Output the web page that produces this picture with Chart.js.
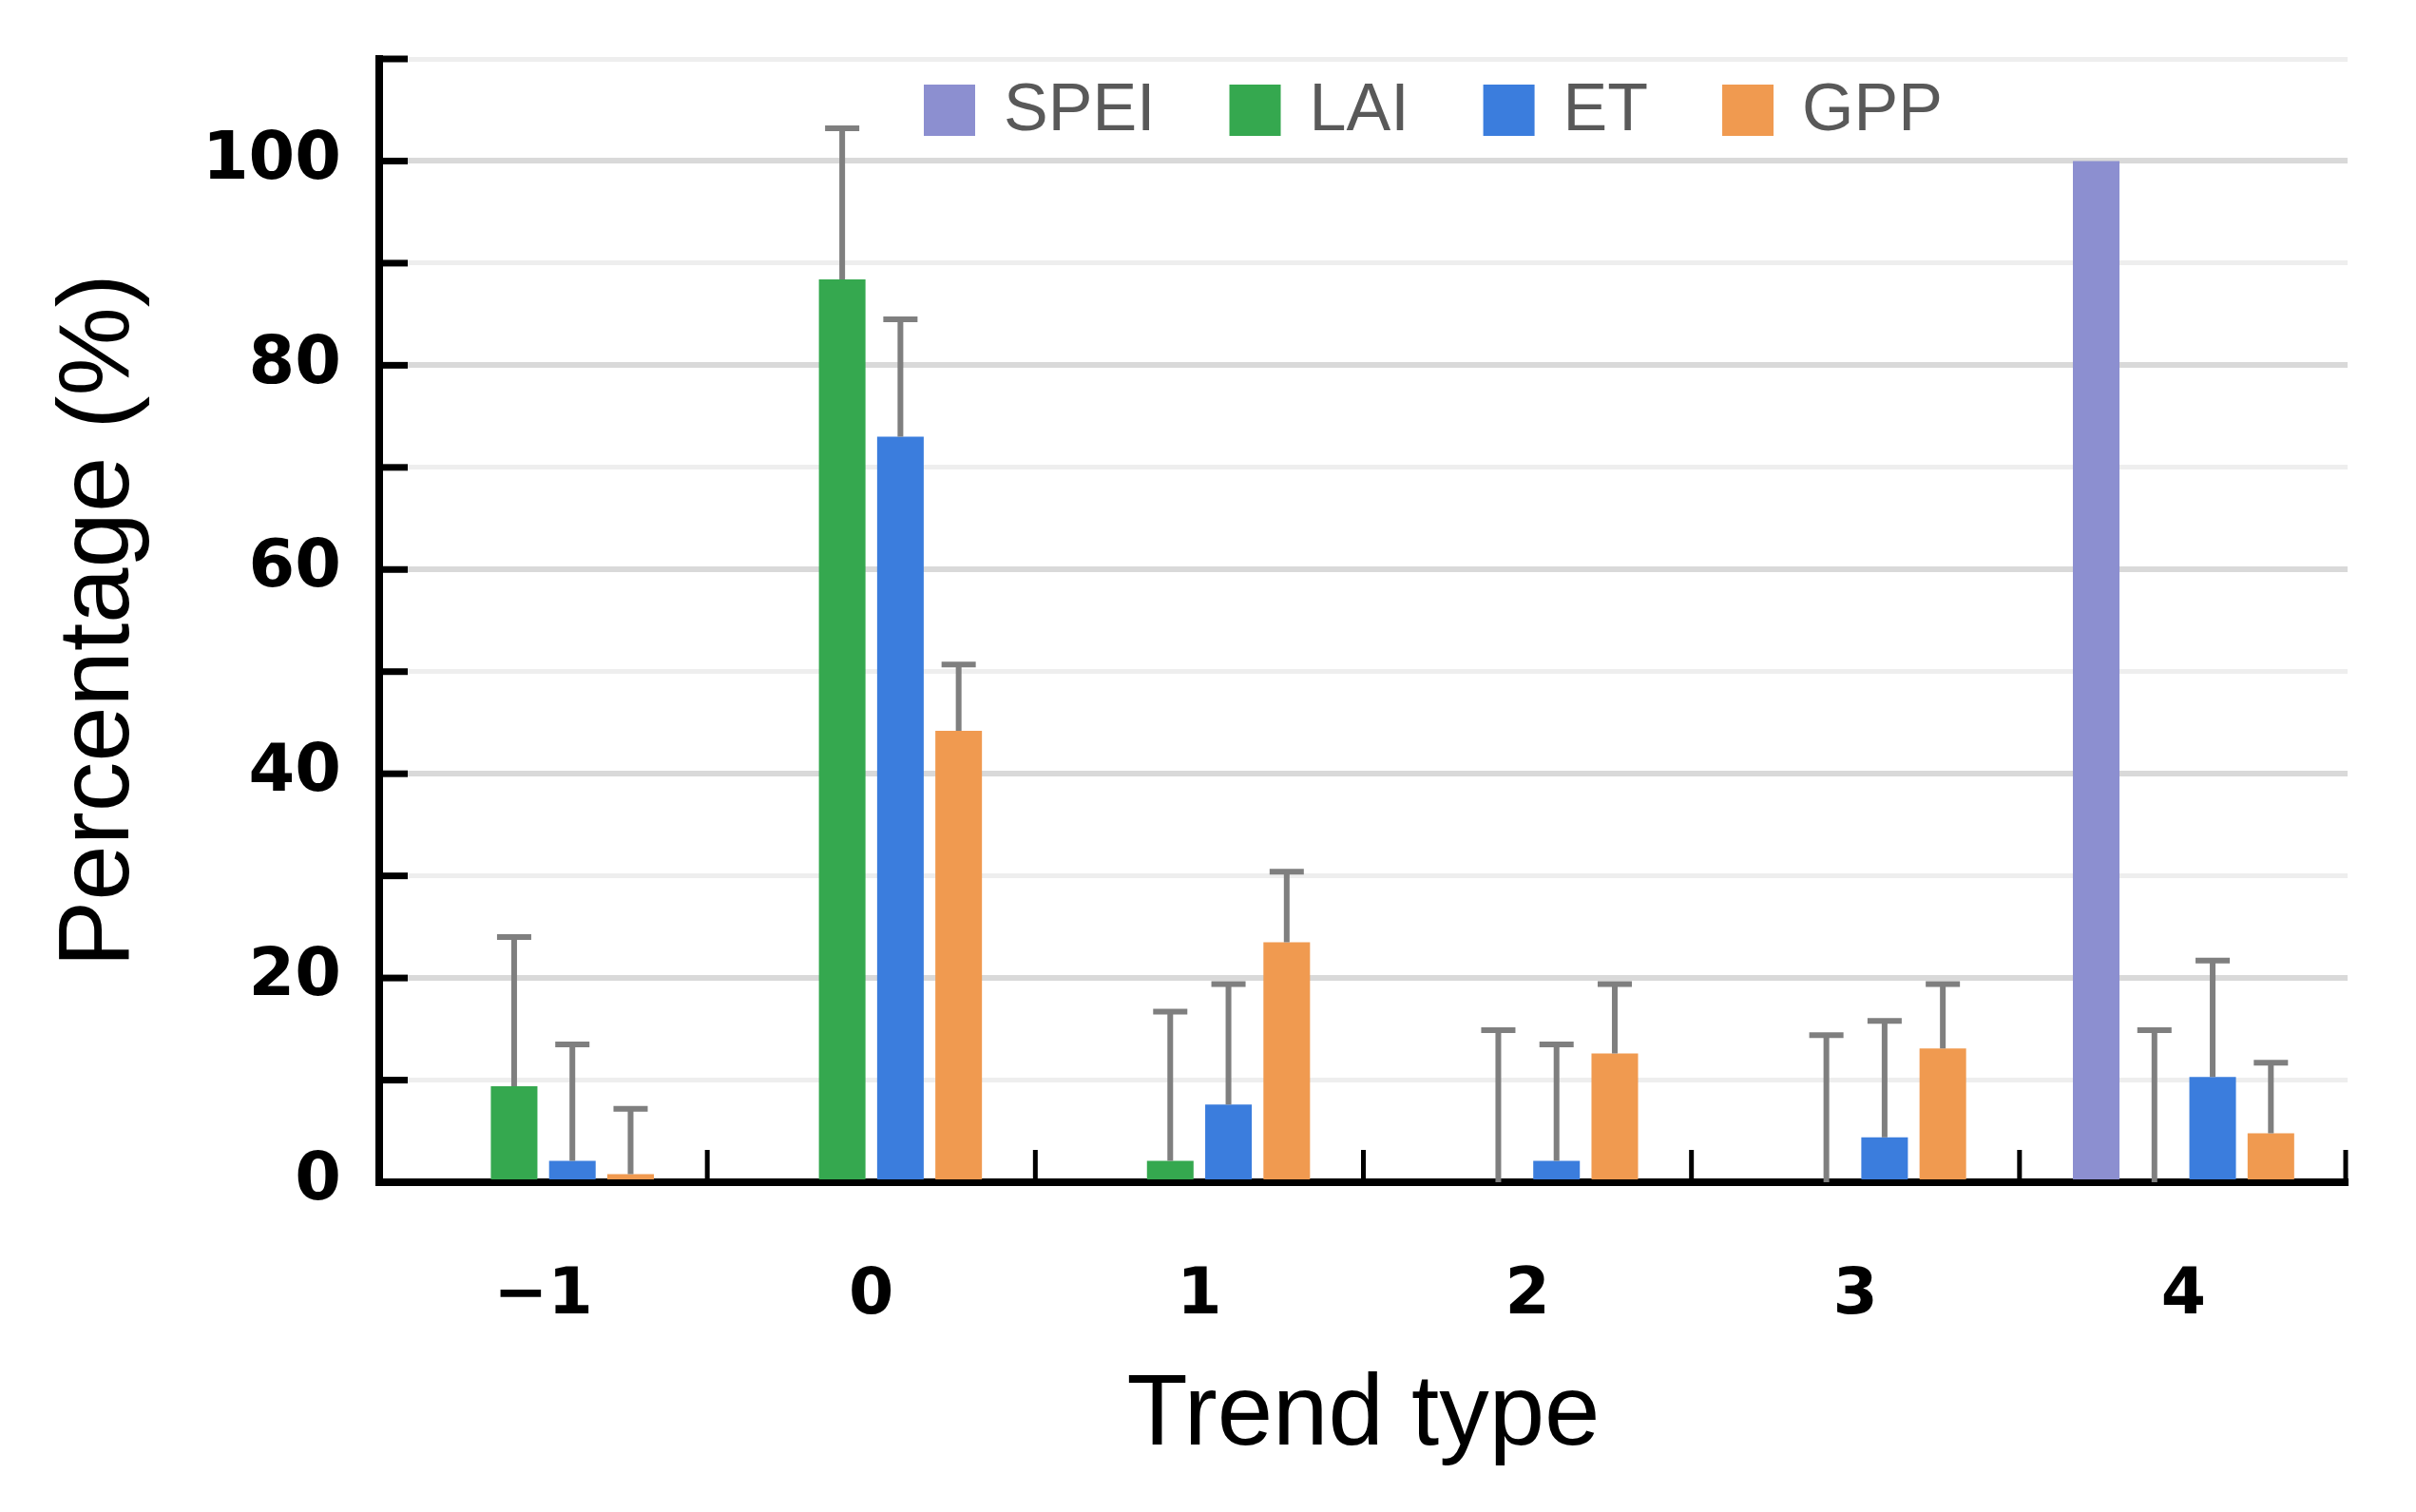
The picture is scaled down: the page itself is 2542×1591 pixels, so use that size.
<!DOCTYPE html>
<html>
<head>
<meta charset="utf-8">
<script src="https://cdn.jsdelivr.net/npm/chart.js@4.4.1/dist/chart.umd.min.js"></script>
<style>
html, body { margin: 0; padding: 0; background: #fff; }
#wrap { width: 2542px; height: 1591px; position: relative; }
</style>
</head>
<body>
<div id="wrap"><canvas id="chart"></canvas></div>
<script>
// datos
const trendTypes = ['\u22121', '0', '1', '2', '3', '4'];
const speiValues = [0, 0, 0, 0, 0, 100];
const laiValues = [9.4, 88.4, 2.1, 0, 0, 0];
const etValues = [2.1, 73.0, 7.6, 2.1, 4.4, 10.3];
const gppValues = [0.8, 44.2, 23.5, 12.6, 13.1, 4.8];
// barras de error (solo hacia arriba)
const laiErrors = [14.6, 14.8, 14.6, 14.9, 14.4, 14.9];
const etErrors = [11.4, 11.5, 11.8, 11.4, 11.4, 11.4];
const gppErrors = [6.4, 6.5, 6.9, 6.8, 6.3, 6.9];
const yLabelTicks = [0, 20, 40, 60, 80, 100];

const FONT = "'Liberation Sans', Arial, sans-serif";
const TICK_FONT = "'DejaVu Sans', 'Liberation Sans', sans-serif";

// barras de error y marcas interiores de los ejes
const extraMarks = {
    id: 'extraMarks',
    afterDatasetsDraw(chart) {
        const { ctx, chartArea, scales: { x, y } } = chart;
        ctx.save();
        chart.data.datasets.forEach((ds, di) => {
            if (!ds.errors) return;
            const meta = chart.getDatasetMeta(di);
            meta.data.forEach((bar, i) => {
                const top = y.getPixelForValue(ds.data[i] + ds.errors[i]);
                ctx.strokeStyle = '#7f7f7f';
                ctx.lineWidth = 6;
                ctx.beginPath();
                ctx.moveTo(bar.x, bar.y);
                ctx.lineTo(bar.x, top);
                ctx.moveTo(bar.x - 18, top);
                ctx.lineTo(bar.x + 18, top);
                ctx.stroke();
            });
        });

        // marcas del eje Y hacia dentro
        ctx.strokeStyle = '#000';
        ctx.lineWidth = 7;
        for (let v = 10; v <= y.max; v += 10) {
            const py = y.getPixelForValue(v);
            ctx.beginPath();
            ctx.moveTo(chartArea.left, py);
            ctx.lineTo(chartArea.left + 30, py);
            ctx.stroke();
        }

        // separadores de categorias en el eje X
        ctx.lineWidth = 5;
        for (let i = 0; i < trendTypes.length; i++) {
            const px = i < trendTypes.length - 1
                ? (x.getPixelForValue(i) + x.getPixelForValue(i + 1)) / 2
                : chartArea.right - 2;
            ctx.beginPath();
            ctx.moveTo(px, chartArea.bottom);
            ctx.lineTo(px, chartArea.bottom - 34);
            ctx.stroke();
        }
        ctx.restore();
    },
    // leyenda horizontal dentro del area del grafico
    afterDraw(chart) {
        const { ctx, chartArea } = chart;
        const box = 54;
        const textGap = 30;
        const itemGap = 78;
        const cy = chartArea.top + 54;
        ctx.save();
        ctx.font = "70px " + FONT;
        ctx.textBaseline = 'middle';
        ctx.textAlign = 'left';
        let px = chartArea.left + 573;
        chart.data.datasets.forEach(ds => {
            ctx.fillStyle = ds.backgroundColor;
            ctx.fillRect(px, cy - box / 2, box, box);
            px += box + textGap;
            ctx.fillStyle = '#595959';
            ctx.fillText(ds.label, px, cy + 2);
            px += ctx.measureText(ds.label).width + itemGap;
        });
        ctx.restore();
    }
};

const ctx = document.getElementById('chart').getContext('2d');
new Chart(ctx, {
    type: 'bar',
    data: {
        labels: trendTypes,
        datasets: [
            { label: 'SPEI', data: speiValues, backgroundColor: '#8c8fd0' },
            { label: 'LAI', data: laiValues, errors: laiErrors, backgroundColor: '#35a84f' },
            { label: 'ET', data: etValues, errors: etErrors, backgroundColor: '#3b7ddd' },
            { label: 'GPP', data: gppValues, errors: gppErrors, backgroundColor: '#f09a50' }
        ]
    },
    options: {
        responsive: true,
        maintainAspectRatio: false,
        animation: false,
        devicePixelRatio: 1,
        layout: { padding: { top: 62, right: 72, left: 0, bottom: 0 } },
        datasets: {
            bar: { categoryPercentage: 0.71, barPercentage: 0.8, borderWidth: 0 }
        },
        plugins: {
            tooltip: { enabled: false },
            legend: { display: false }
        },
        scales: {
            x: {
                z: 1,
                grid: { display: false, drawTicks: false },
                border: { display: true, color: '#000', width: 8 },
                ticks: {
                    padding: 80,
                    color: '#000',
                    font: { family: TICK_FONT, size: 68, weight: 'bold' }
                },
                title: {
                    display: true,
                    text: 'Trend type',
                    color: '#000',
                    padding: { top: 0, bottom: 37 },
                    font: { family: FONT, size: 105 }
                },
                afterFit(scale) {
                    scale.height = 347;
                    scale.paddingLeft = 0;
                    scale.paddingRight = 0;
                }
            },
            y: {
                min: 0,
                max: 110,
                grid: {
                    drawTicks: false,
                    lineWidth: c => (c.tick && c.tick.value % 20 === 0 ? 6 : 5),
                    color: c => (c.tick && c.tick.value % 20 === 0 ? '#d9d9d9' : '#eeeeee')
                },
                border: { display: true, color: '#000', width: 8 },
                ticks: {
                    stepSize: 10,
                    padding: 40,
                    color: '#000',
                    font: { family: TICK_FONT, size: 70, weight: 'bold' },
                    callback: v => (yLabelTicks.includes(v) ? v : '')
                },
                title: {
                    display: true,
                    text: 'Percentage (%)',
                    color: '#000',
                    padding: { top: 43, bottom: 0 },
                    font: { family: FONT, size: 105 }
                },
                afterFit(scale) {
                    scale.width = 399;
                    scale.paddingTop = 0;
                    scale.paddingBottom = 0;
                }
            }
        }
    },
    plugins: [extraMarks]
});
</script>
</body>
</html>
